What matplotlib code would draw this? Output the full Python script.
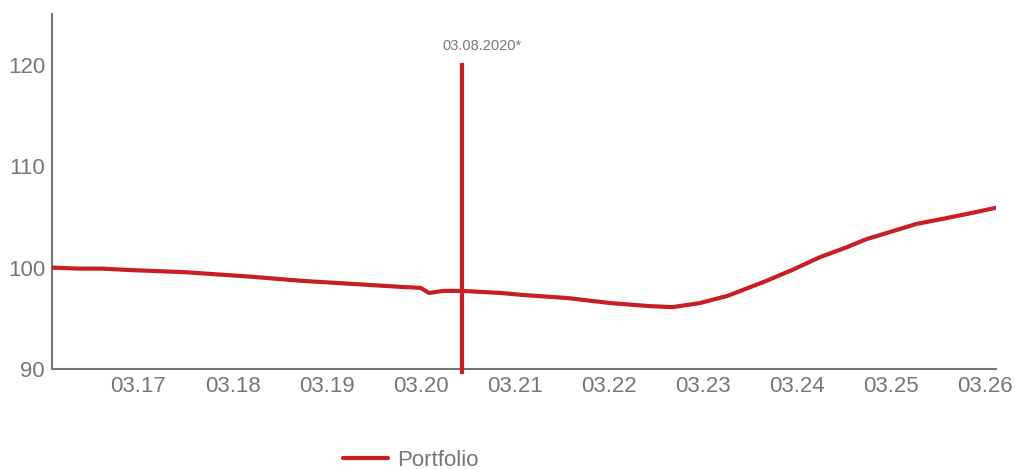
import matplotlib
matplotlib.use("Agg")
import matplotlib.pyplot as plt
from matplotlib.ticker import FuncFormatter

# data
x_vals = [3.1608, 3.1636, 3.1661, 3.1693, 3.1749, 3.1820, 3.1873, 3.1926,
          3.1979, 3.2000, 3.2009, 3.2024, 3.2045, 3.2085, 3.2109, 3.2156,
          3.2202, 3.2244, 3.2268, 3.2297, 3.2326, 3.2343, 3.2368, 3.2396,
          3.2424, 3.2453, 3.2474, 3.2499, 3.2527, 3.2555, 3.2587, 3.2612]
portfolio = [100.0, 99.9, 99.9, 99.75, 99.55, 99.1, 98.7, 98.4,
             98.1, 98.0, 97.5, 97.7, 97.7, 97.5, 97.3, 97.0,
             96.5, 96.2, 96.1, 96.5, 97.2, 97.8, 98.7, 99.8,
             101.0, 102.0, 102.8, 103.5, 104.3, 104.8, 105.4, 105.9]
x_ticks = [3.17, 3.18, 3.19, 3.20, 3.21, 3.22, 3.23, 3.24, 3.25, 3.26]
y_ticks = [90, 100, 110, 120]
event_x = 3.2044
event_top = 120
event_label = "03.08.2020*"

RED = "#c81e24"
GREY = "#767676"
plt.rcParams["font.family"] = ["Liberation Sans", "DejaVu Sans"]

fig = plt.figure(figsize=(10.15, 4.69), dpi=100)
ax = fig.add_axes([0.0512, 0.2132, 0.9301, 0.7568])

ax.plot(x_vals, portfolio, color=RED, linewidth=3, label="Portfolio",
        solid_capstyle="round", zorder=3)

# event marker
ax.plot([event_x, event_x], [89.7, event_top], color=RED, linewidth=3,
        clip_on=False, zorder=4)
ax.annotate(event_label, xy=(event_x, event_top), xytext=(20, 19),
            textcoords="offset pixels", ha="center", va="center",
            fontsize=10.5, color=GREY)

ax.set_xlim(3.1608, 3.2612)
ax.set_ylim(90, 125)
ax.set_xticks(x_ticks)
ax.set_yticks(y_ticks)
ax.xaxis.set_major_formatter(FuncFormatter(lambda v, p: f"{v:05.2f}"))
ax.tick_params(length=0, labelsize=16, labelcolor=GREY, pad=5)

for s in ["top", "right"]:
    ax.spines[s].set_visible(False)
for s in ["left", "bottom"]:
    ax.spines[s].set_color(GREY)
    ax.spines[s].set_linewidth(1.5)

fig.legend(loc="center left", bbox_to_anchor=(0.338, 0.019), frameon=False,
           fontsize=16, handlelength=2.0, handletextpad=0.45, borderpad=0,
           borderaxespad=0, labelcolor=GREY)

fig.savefig("out.png", dpi=100)
